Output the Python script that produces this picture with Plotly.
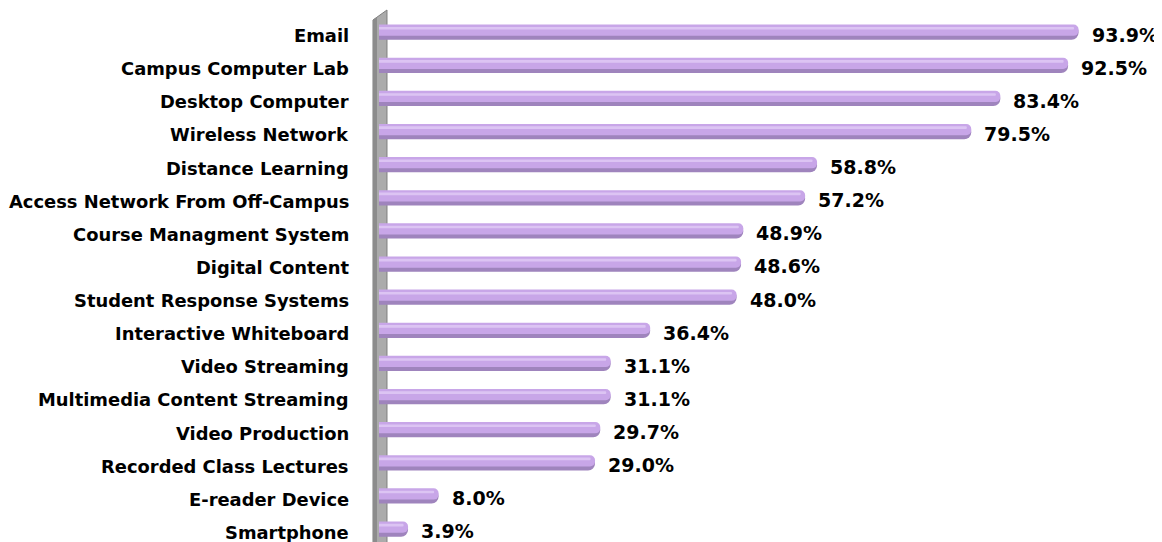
import plotly.graph_objects as go

categories = ["Email", "Campus Computer Lab", "Desktop Computer", "Wireless Network",
              "Distance Learning", "Access Network From Off-Campus", "Course Managment System",
              "Digital Content", "Student Response Systems", "Interactive Whiteboard",
              "Video Streaming", "Multimedia Content Streaming", "Video Production",
              "Recorded Class Lectures", "E-reader Device", "Smartphone"]
values = [93.9, 92.5, 83.4, 79.5, 58.8, 57.2, 48.9, 48.6, 48.0, 36.4,
          31.1, 31.1, 29.7, 29.0, 8.0, 3.9]
value_labels = ["%.1f%%" % v for v in values]

# the page body adds an 8px margin, so the figure is shrunk and shifted by it
OFF = 8
W, H = 1162, 542
L, R, T, B = 379, 38, 16, 0          # plot area in page pixels
pw, ph = W - L - R, H - T - B


def px(x):
    return (x - L) / pw


def py(y):
    return 1 - (y - T) / ph


FONT = "DejaVu Sans"

fig = go.Figure()

# darker base gives the lower edge of the tube
fig.add_trace(go.Bar(
    x=values, y=categories, orientation="h",
    width=0.44,
    marker=dict(color="#9F84BD", cornerradius=7, line=dict(width=0)),
    hoverinfo="skip",
))
# main lavender body
fig.add_trace(go.Bar(
    x=values, y=categories, orientation="h",
    width=0.34, offset=-0.24,
    marker=dict(color="#C8A6E8", cornerradius=6, line=dict(width=0)),
    hoverinfo="skip",
))
# light highlight on top
fig.add_trace(go.Bar(
    x=[v - 0.6 for v in values], y=categories, orientation="h",
    width=0.08, offset=-0.17,
    marker=dict(color="#DCC4F3", cornerradius=2, line=dict(width=0)),
    hoverinfo="skip",
))

# category labels sit a little below the bar centre, as in the original
for cat in categories:
    fig.add_annotation(
        x=0, xref="paper", y=cat, text="<b>%s</b>" % cat, showarrow=False,
        xanchor="right", xshift=-28, yshift=-3,
        font=dict(family=FONT, size=17.9, color="#000000"),
    )

for cat, v, lab in zip(categories, values, value_labels):
    fig.add_annotation(
        x=v, y=cat, text="<b>%s</b>" % lab, showarrow=False,
        xanchor="left", xshift=11, yshift=-2,
        font=dict(family=FONT, size=19, color="#000000"),
    )

# grey wall with slanted top
fig.add_shape(type="path", xref="paper", yref="paper",
              path="M %f %f L %f %f L %f %f L %f %f Z" % (
                  px(373), py(H + 5), px(373), py(20), px(387), py(10), px(387), py(H + 5)),
              fillcolor="#ABABAB", line=dict(color="#7F7F7F", width=1), layer="below")
fig.add_shape(type="path", xref="paper", yref="paper",
              path="M %f %f L %f %f L %f %f L %f %f Z" % (
                  px(373), py(H + 5), px(373), py(20), px(377), py(17), px(377), py(H + 5)),
              fillcolor="#8C8C8C", line=dict(width=0), layer="below")

fig.update_layout(
    width=W - OFF, height=H - OFF,
    margin=dict(l=L - OFF, r=R, t=T - OFF, b=B),
    paper_bgcolor="white", plot_bgcolor="white",
    barmode="overlay",
    showlegend=False,
    xaxis=dict(range=[0, 100], visible=False, fixedrange=True),
    yaxis=dict(
        categoryorder="array", categoryarray=categories,
        range=[15.38, -0.5],
        showgrid=False, zeroline=False, showline=False, ticks="",
        showticklabels=False,
        fixedrange=True,
    ),
)

fig.write_html("out.html")
